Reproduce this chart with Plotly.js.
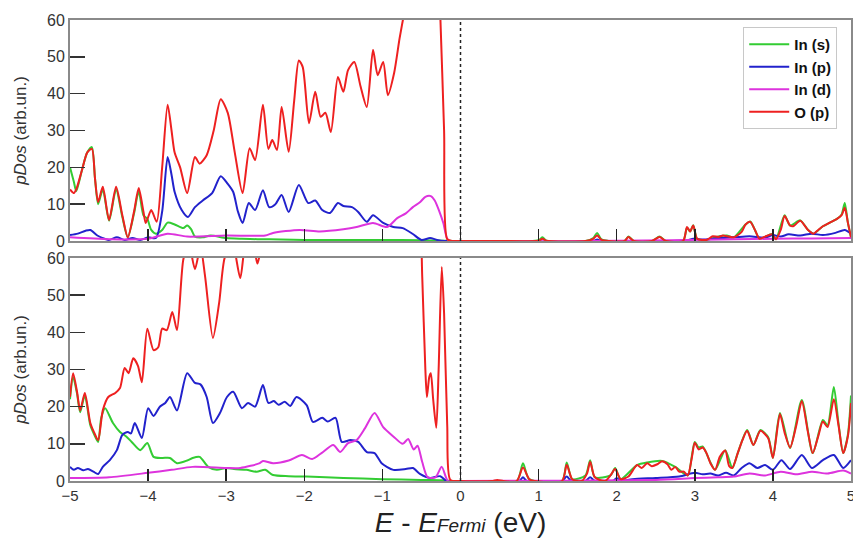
<!DOCTYPE html>
<html>
<head>
<meta charset="utf-8">
<script src="https://cdn.plot.ly/plotly-3.0.1.min.js"></script>
<style>html,body{margin:0;padding:0;background:#fff;}#chart{width:853px;height:538px;}</style>
</head>
<body>
<div id="chart"></div>
<script>
// ---------- Series names ----------
const seriesNames = ["In (s)", "In (p)", "In (d)", "O (p)"];
const seriesColors = ["#33cc33", "#2222cc", "#dd33dd", "#ee2020"];

// ---------- Top panel ----------
const topRedX = [-5,-4.95,-4.92,-4.85,-4.78,-4.72,-4.68,-4.64,-4.58,-4.5,-4.41,-4.33,-4.26,-4.18,-4.12,-4.06,-4.03,-3.96,-3.89,-3.82,-3.75,-3.7,-3.66,-3.59,-3.5,-3.4,-3.34,-3.25,-3.16,-3.07,-2.98,-2.89,-2.79,-2.7,-2.63,-2.53,-2.46,-2.41,-2.35,-2.29,-2.2,-2.13,-2.07,-2.02,-1.94,-1.86,-1.79,-1.73,-1.66,-1.57,-1.5,-1.44,-1.36,-1.28,-1.2,-1.12,-1.06,-0.99,-0.93,-0.85,-0.78,-0.72,-0.6,-0.45,-0.35,-0.3,-0.26,-0.21,-0.17,-0.1,
  0,0.5,1.0,1.05,1.1,1.6,1.7,1.75,1.8,1.9,2.1,2.15,2.22,2.45,2.55,2.63,2.85,2.9,2.94,2.98,3.03,3.15,3.23,3.3,3.36,3.41,3.5,3.6,3.65,3.71,3.77,3.83,3.9,3.99,4.04,4.1,4.15,4.22,4.26,4.35,4.45,4.52,4.58,4.64,4.73,4.82,4.88,4.92,4.96,5];
const topRedY = [14,13,14,19,24,25,17,10.6,14.7,5.7,14.7,7,1,8,14.4,8,4.9,8.4,5.2,20,37,30,24,20,13,22.8,21,23.3,30,38.5,34.8,24,13,25.2,22,37,25,27.4,24.7,36.4,24.2,38,49,47.2,32,40.5,33.7,34.8,29.6,44.5,40.5,46.4,48.6,42,36.4,51.9,45,48.6,39.6,45.6,55,62,75,85,90,85,62,30,0.5,0,
  0,0,0.1,0.6,0.1,0,0.6,1.5,0.4,0,0,1.1,0,0,1.1,0,0,3.8,2.6,4.2,0.6,0.3,1.3,1.1,1.5,1.3,1,2.5,4.5,5.2,3,0.6,1.2,1.8,0.5,3,6.8,4.2,4,5.5,3,2,3,4,5,6,7,9,5,1];

const topGreenX = [-5,-4.95,-4.92,-4.85,-4.78,-4.72,-4.68,-4.64,-4.58,-4.5,-4.41,-4.33,-4.26,-4.18,-4.12,-4.06,-4.01,-3.96,-3.9,-3.82,-3.75,-3.66,-3.55,-3.5,-3.45,-3.4,-3.3,-3.2,-3.0,-2.8,-2.6,-2.3,-2.0,-1.5,-1.0,-0.5,-0.2,-0.1,
  0,1.0,1.05,1.1,1.6,1.7,1.75,1.8,1.9,2.1,2.15,2.22,2.45,2.55,2.63,2.85,2.9,2.94,2.98,3.03,3.15,3.3,3.41,3.5,3.65,3.71,3.77,3.83,3.99,4.04,4.15,4.22,4.35,4.45,4.52,4.64,4.73,4.82,4.88,4.92,4.96,5];
const topGreenY = [20,16,13.5,19,24,25.5,17,10,14,5.5,14,6.5,1,7.5,13.5,7,6,3,2,3,5,4.5,3.5,4.2,3.2,1.2,1.0,1.5,0.8,0.6,0.5,0.4,0.3,0.3,0.3,0.2,0.1,0,
  0,0.2,1,0.1,0,0.8,2.2,0.5,0,0,1.2,0,0,1.2,0,0,3.6,2.6,4.3,0.6,0.3,1.2,1.5,1,4.5,5.3,3,0.6,1.9,0.5,7,4.2,5.6,3,2,4,5,6,7.2,10.3,5,1];

const topBlueX = [-5,-4.9,-4.8,-4.74,-4.65,-4.58,-4.5,-4.4,-4.3,-4.2,-4.1,-4.0,-3.9,-3.82,-3.75,-3.7,-3.66,-3.57,-3.49,-3.4,-3.3,-3.18,-3.07,-2.98,-2.91,-2.85,-2.79,-2.71,-2.63,-2.53,-2.45,-2.37,-2.29,-2.2,-2.07,-1.95,-1.86,-1.77,-1.67,-1.57,-1.5,-1.39,-1.31,-1.2,-1.12,-0.99,-0.86,-0.74,-0.61,-0.5,-0.39,-0.3,-0.2,
  0,1.7,1.75,1.8,2.9,2.98,3.1,3.3,3.5,3.7,3.9,4.0,4.1,4.2,4.35,4.5,4.64,4.8,4.92,5];
const topBlueY = [1.6,2,2.8,3,1.5,0.8,0.3,1,0.3,0.8,0.3,1,0.8,8,22.8,18,13.3,8.4,6.5,9.2,11,13,17.6,15.5,13.3,8,4.9,10.3,8.4,13.8,9.2,10,12.5,7.9,15.2,10.3,11,8.4,7.6,10.3,9.5,9.2,7.9,5.2,7,4.9,3.8,3.5,1.9,0.3,0.8,0.3,0,
  0,0,0.4,0,0.2,0.6,0.4,0.8,1,1.3,0.9,1.6,1.2,1.8,1.5,2,1.6,2.2,3,2];

const topMagX = [-5,-4.5,-4,-3.75,-3.5,-3,-2.5,-2.4,-2.06,-1.8,-1.5,-1.33,-1.12,-0.94,-0.81,-0.7,-0.61,-0.52,-0.45,-0.38,-0.33,-0.27,-0.22,-0.16,
  0,2.9,3.5,4.0,4.5,5];
const topMagY = [1,0.5,0.6,2,1.2,1.5,1.5,2.2,3,2.6,3.2,3.8,4.9,3.8,6.2,7.5,9.2,10.5,12,12.2,11,8,4.9,0.3,
  0,0.3,0.5,0.6,0.7,0.8];

// ---------- Bottom panel ----------
const botRedX = [-5,-4.96,-4.91,-4.87,-4.81,-4.74,-4.69,-4.64,-4.58,-4.51,-4.42,-4.36,-4.3,-4.25,-4.19,-4.13,-4.08,-4.01,-3.93,-3.87,-3.82,-3.76,-3.69,-3.63,-3.55,-3.48,-3.4,-3.33,-3.27,-3.17,-3.09,-3.02,-2.92,-2.82,-2.74,-2.65,-2.6,-2.55,-2.3,-2.0,-1.5,-1.0,-0.6,-0.52,-0.49,-0.45,-0.43,-0.4,-0.38,-0.35,-0.31,-0.28,-0.24,-0.21,-0.17,-0.13,
  0,0.4,0.47,0.55,0.72,0.8,0.88,0.95,1.3,1.36,1.43,1.55,1.62,1.66,1.72,1.85,1.92,1.98,2.05,2.15,2.26,2.32,2.39,2.45,2.52,2.58,2.65,2.7,2.75,2.8,2.86,2.91,2.96,3.0,3.05,3.1,3.15,3.2,3.26,3.32,3.39,3.44,3.48,3.55,3.61,3.67,3.75,3.84,3.94,4.0,4.09,4.15,4.22,4.3,4.37,4.45,4.51,4.58,4.64,4.7,4.78,4.84,4.9,4.96,5.0];
const botRedY = [22.6,29,24,19,23.7,15.6,13,11,19,22.6,23.7,25,30.4,29,33,31,26.6,41,35.2,36,41,40.6,45.5,40.6,59.5,64,57,63,55,38.5,48,60,64,54.6,65,63,58.5,63,80,100,110,95,75,70,55,30,22.6,28,29,22,14.3,30,57.6,45,15,0.3,
  0,0,0.3,0,0,3.6,0.5,0,0,4.4,0.5,0,2,5.2,1,0,1.5,3.2,0.5,1.2,4.3,3.5,4.8,4,4.5,5.3,4.5,3,3.8,2.5,2.5,1.5,6,10.3,8.5,9,7.5,4.8,3,6.5,8.2,4,3.5,7.5,11,13.5,9.7,13.5,11.5,6.2,18,13,9,15,21.5,13,7.5,12,16,14.5,22,15,7.5,12,21];

const botGreenX = [-5,-4.96,-4.91,-4.87,-4.81,-4.74,-4.69,-4.64,-4.6,-4.55,-4.45,-4.36,-4.28,-4.21,-4.1,-4.01,-3.93,-3.82,-3.72,-3.63,-3.5,-3.43,-3.34,-3.23,-3.12,-3.0,-2.9,-2.74,-2.61,-2.5,-2.4,-2.2,-1.97,-1.5,-1.0,-0.5,-0.2,-0.1,
  0,0.72,0.8,0.88,1.3,1.36,1.43,1.6,1.66,1.72,1.92,1.98,2.05,2.26,2.39,2.58,2.75,2.91,2.96,3.0,3.05,3.1,3.2,3.26,3.39,3.48,3.55,3.67,3.75,3.84,3.94,4.0,4.09,4.22,4.37,4.51,4.64,4.7,4.78,4.84,4.9,4.96,5.0];
const botGreenY = [22,28,23.5,18.5,23,15,12.5,10.5,17,19.6,15.6,13.2,12,10.5,8.3,10.2,6.5,6.2,6.2,4.8,5.5,6.2,6.5,3.8,3,3.5,3.2,3,2.5,3,1.6,1.3,1.2,0.8,0.5,0.3,0.2,0,
  0,0,4.8,0.5,0,5,0.5,1.5,5.6,1,1.5,3.5,0.5,4.3,5,5.4,3.8,1.5,6.5,10.5,9,9.3,5,3,8.3,3.5,7.5,13.7,9.7,13.7,11.8,6.2,18.3,8.9,21.8,7.5,16.4,15,25.3,15.5,7.5,12.5,23];

const botBlueX = [-5,-4.95,-4.9,-4.83,-4.77,-4.7,-4.64,-4.58,-4.49,-4.4,-4.33,-4.26,-4.22,-4.17,-4.08,-4.0,-3.93,-3.85,-3.78,-3.72,-3.63,-3.5,-3.4,-3.33,-3.25,-3.17,-3.08,-2.99,-2.91,-2.8,-2.72,-2.63,-2.53,-2.46,-2.39,-2.33,-2.25,-2.18,-2.1,-1.97,-1.89,-1.77,-1.7,-1.6,-1.52,-1.41,-1.31,-1.2,-1.1,-1.01,-0.86,-0.7,-0.61,-0.52,-0.39,-0.26,-0.18,
  0,0.75,0.8,0.85,1.3,1.36,1.42,1.6,1.66,1.72,1.95,2.0,2.05,2.2,2.5,2.8,3.0,3.1,3.2,3.3,3.4,3.5,3.6,3.7,3.8,3.9,4.0,4.11,4.22,4.37,4.5,4.64,4.78,4.9,5.0];
const botBlueY = [3.8,3,3.5,2.9,3.2,2.5,1.9,3.8,5.6,8.3,12.4,13.2,12.8,15.6,11.6,19.6,17.5,20,21,22.6,19,29,26.4,26,22.6,15.6,18.3,22.6,24,19.6,21,20,25.8,21,21.5,20.5,21.3,20.2,22.6,20.4,15.9,17,16,17,10.5,11,10.5,7.8,7.5,4.8,3,3.2,3.5,1.9,0.8,1.3,0,
  0,0,1,0,0,1.2,0,0,1,0,0,0.8,0,0.5,0.8,1.2,2.2,1.8,2.0,1.5,2.2,1.5,3.5,4.8,3.5,4.3,3.0,5.6,3.2,7,3.5,5.6,7,3.5,5.6];

const botMagX = [-5,-4.5,-4.0,-3.7,-3.43,-3.0,-2.82,-2.57,-2.53,-2.4,-2.2,-2.03,-1.9,-1.78,-1.63,-1.54,-1.44,-1.33,-1.22,-1.1,-0.99,-0.86,-0.74,-0.67,-0.6,-0.55,-0.49,-0.42,-0.32,-0.24,-0.16,
  0,2.5,3.0,3.3,3.5,3.7,3.9,4.1,4.3,4.5,4.7,4.9,5.0];
const botMagY = [0.8,1,2.2,3,3.8,3.5,3.5,4.8,5.4,4.8,5.5,7,5.9,7.5,9.7,7.8,10.2,11,14.3,18.3,14.5,12,10,11.3,8.5,9.5,5.1,1,1,3.8,0,
  0,0.3,0.8,1,1.2,2,1.5,2.5,1.8,2.5,2,2.8,2];

// ---------- Axis ticks ----------
const xTicks = [-5,-4,-3,-2,-1,0,1,2,3,4,5];
const yTicks = [0,10,20,30,40,50,60];

const topData = [[topGreenX, topGreenY],[topBlueX, topBlueY],[topMagX, topMagY],[topRedX, topRedY]];
const botData = [[botGreenX, botGreenY],[botBlueX, botBlueY],[botMagX, botMagY],[botRedX, botRedY]];

const traces = [];
topData.forEach((d, i) => {
  traces.push({x: d[0], y: d[1], type: 'scatter', mode: 'lines', name: seriesNames[i],
    xaxis: 'x2', yaxis: 'y2', showlegend: true,
    line: {color: seriesColors[i], width: 2, shape: 'spline', smoothing: 0.7}});
});
botData.forEach((d, i) => {
  traces.push({x: d[0], y: d[1], type: 'scatter', mode: 'lines', name: seriesNames[i],
    xaxis: 'x', yaxis: 'y', showlegend: false,
    line: {color: seriesColors[i], width: 2, shape: 'spline', smoothing: 0.7}});
});

const fontFam = 'Liberation Sans, Arial, sans-serif';
const xCommon = {
  range: [-5, 5], tickvals: xTicks, ticks: 'inside', ticklen: 12, tickwidth: 1.5, tickcolor: '#222',
  showline: true, linecolor: '#8a8a8a', linewidth: 2, mirror: true, showgrid: false, zeroline: false,
  ticklabeloverflow: 'allow',
  tickfont: {family: fontFam, size: 15, color: '#333'}
};
const yCommon = {
  range: [0, 60], tickvals: yTicks, ticks: 'inside', ticklen: 15, tickwidth: 1.5, tickcolor: '#333',
  showline: true, linecolor: '#8a8a8a', linewidth: 2, mirror: true, showgrid: false, zeroline: false,
  tickfont: {family: fontFam, size: 16, color: '#333'}, automargin: false,
  title: {text: '<i>pDos</i> (arb.un.)', font: {family: fontFam, size: 17, color: '#333'}, standoff: 16}
};

const layout = {
  width: 853, height: 538,
  margin: {l: 70, r: 2, t: 20, b: 57},
  paper_bgcolor: '#fff', plot_bgcolor: '#fff',
  xaxis: Object.assign({}, xCommon, {anchor: 'y', automargin: false,
    title: {text: '<i>E</i> - <i>E<span style="font-size:19px">Fermi</span></i> (eV)', font: {family: fontFam, size: 28, color: '#222'}, standoff: 10}}),
  xaxis2: Object.assign({}, xCommon, {anchor: 'y2', matches: 'x', showticklabels: false}),
  yaxis: Object.assign({}, yCommon, {domain: [0, 0.4837], anchor: 'x'}),
  yaxis2: Object.assign({}, yCommon, {domain: [0.5206, 1], anchor: 'x2'}),
  legend: {x: 0.862, y: 0.985, xanchor: 'left', yanchor: 'top', bgcolor: '#fff',
    bordercolor: '#c8c8c8', borderwidth: 1, tracegroupgap: 0, itemwidth: 40,
    font: {family: fontFam, size: 15, color: '#111', weight: 'bold'}},
  shapes: [
    {type: 'line', xref: 'x2', yref: 'y2', x0: 0, x1: 0, y0: 0, y1: 60, line: {color: '#222', width: 1.5, dash: 'dot'}},
    {type: 'line', xref: 'x', yref: 'y', x0: 0, x1: 0, y0: 0, y1: 60, line: {color: '#222', width: 1.5, dash: 'dot'}}
  ]
};

Plotly.newPlot('chart', traces, layout, {displayModeBar: false, staticPlot: true});
</script>
</body>
</html>
